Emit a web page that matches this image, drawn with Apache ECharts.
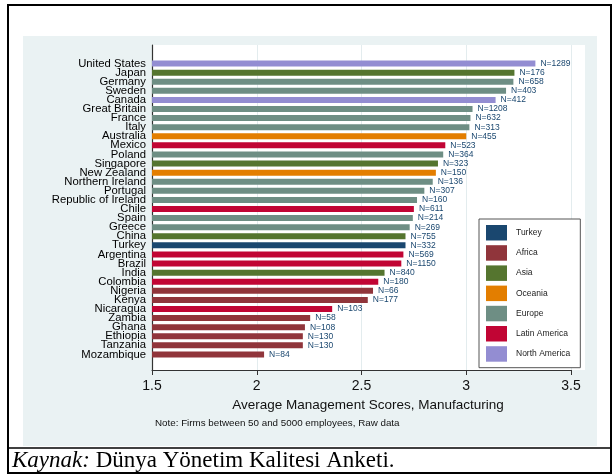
<!DOCTYPE html>
<html><head><meta charset="utf-8">
<script src="https://cdn.jsdelivr.net/npm/echarts@6.0.0/dist/echarts.min.js"></script>
<style>html,body{margin:0;padding:0;background:#fff}#c{width:613px;height:474px}</style>
</head><body><div id="c"></div>
<script>
const countries = ['United States','Japan','Germany','Sweden','Canada','Great Britain','France','Italy','Australia','Mexico','Poland','Singapore','New Zealand','Northern Ireland','Portugal','Republic of Ireland','Chile','Spain','Greece','China','Turkey','Argentina','Brazil','India','Colombia','Nigeria','Kenya','Nicaragua','Zambia','Ghana','Ethiopia','Tanzania','Mozambique'];
const scores = [3.33,3.23,3.225,3.19,3.14,3.03,3.02,3.015,3.00,2.90,2.89,2.865,2.855,2.84,2.80,2.765,2.75,2.745,2.73,2.71,2.71,2.70,2.69,2.61,2.58,2.555,2.53,2.36,2.255,2.23,2.22,2.22,2.035];
const firmCounts = [1289,176,658,403,412,1208,632,313,455,523,364,323,150,136,307,160,611,214,269,755,332,569,1150,840,180,66,177,103,58,108,130,130,84];
const regionOf = ['North America','Asia','Europe','Europe','North America','Europe','Europe','Europe','Oceania','Latin America','Europe','Asia','Oceania','Europe','Europe','Europe','Latin America','Europe','Europe','Asia','Turkey','Latin America','Latin America','Asia','Latin America','Africa','Africa','Latin America','Africa','Africa','Africa','Africa','Africa'];
const regions = ['Turkey','Africa','Asia','Oceania','Europe','Latin America','North America'];
const regionColors = ['#1a476f','#90353b','#55752f','#e37e00','#6e8e84','#c10534','#938dd2'];
const xMin = 1.5, xMax = 3.5, xStep = 0.5;
const xTitle = 'Average Management Scores, Manufacturing';
const noteText = 'Note: Firms between 50 and 5000 employees, Raw data';

const FONT = '"Liberation Sans", Arial, Helvetica, sans-serif';
const SERIF = '"Liberation Serif", "DejaVu Serif", serif';
const chart = echarts.init(document.getElementById('c'), null, {renderer: 'canvas'});

const series = regions.map((r, ri) => ({
  type: 'bar',
  name: r,
  xAxisIndex: 1,
  yAxisIndex: 1,
  barWidth: 6,
  barGap: '-100%',
  itemStyle: {color: regionColors[ri]},
  data: countries.map((c, i) => regionOf[i] === r ? scores[i] : '-'),
  label: {
    show: true, position: 'right', distance: 5,
    formatter: p => 'N=' + firmCounts[p.dataIndex],
    color: '#1a476f', fontSize: 8.5, fontFamily: FONT
  },
  emphasis: {disabled: true}
}));

chart.setOption({
  animation: false,
  textStyle: {fontFamily: FONT},
  graphic: [
    {type: 'rect', z: -100, shape: {x: 23, y: 36, width: 574, height: 410}, style: {fill: '#eaf2f3'}},
    {type: 'rect', z: -90, shape: {x: 152, y: 45, width: 433, height: 325}, style: {fill: '#ffffff'}},
    {type: 'text', left: 155, top: 418, style: {text: noteText, fontSize: 9.8, fill: '#111', fontFamily: FONT}},
    {type: 'line', shape: {x1: 8, y1: 448, x2: 611, y2: 448}, style: {stroke: '#000', lineWidth: 1.5}},
    {type: 'rect', shape: {x: 8, y: 5, width: 603, height: 468}, style: {fill: 'none', stroke: '#000', lineWidth: 2}},
    {type: 'text', left: 12, top: 449, style: {
      text: '{i|Kaynak:}{n| Dünya Yönetim Kalitesi Anketi.}',
      rich: {
        i: {fontFamily: SERIF, fontStyle: 'italic', fontSize: 23, fill: '#000'},
        n: {fontFamily: SERIF, fontSize: 23, fill: '#000'}
      }
    }}
  ],
  legend: {
    data: regions,
    orient: 'vertical',
    left: 479, top: 219,
    padding: [6, 10, 6, 7],
    itemWidth: 21, itemHeight: 15.5, itemGap: 4.7,
    icon: 'rect',
    selectedMode: false,
    backgroundColor: '#fff',
    borderColor: '#555', borderWidth: 1,
    textStyle: {fontSize: 8.5, color: '#222', fontFamily: FONT, padding: [0, 0, 0, 4]}
  },
  grid: [
    {left: 152, right: 42, top: 45, bottom: 104, containLabel: false},
    {left: 152, right: 42, top: 59, bottom: 115, containLabel: false}
  ],
  xAxis: [
    {gridIndex: 0, type: 'value', min: xMin, max: xMax, interval: xStep,
     axisLine: {show: true, lineStyle: {color: '#333', width: 1}},
     axisTick: {show: true, length: 5, lineStyle: {color: '#333'}},
     axisLabel: {fontSize: 14, color: '#111', margin: 9, fontFamily: FONT},
     splitLine: {show: true, lineStyle: {color: '#e3ecee', width: 1}},
     name: xTitle, nameLocation: 'middle', nameGap: 27,
     nameTextStyle: {fontSize: 13.5, color: '#111', fontFamily: FONT, padding: [0, 0, 0, 13]}},
    {gridIndex: 1, type: 'value', min: xMin, max: xMax, show: false}
  ],
  yAxis: [
    {gridIndex: 0, type: 'value', axisLine: {show: true, lineStyle: {color: '#333', width: 1.2}},
     axisLabel: {show: false}, axisTick: {show: false}, splitLine: {show: false}},
    {gridIndex: 1, type: 'category', inverse: true, data: countries,
     axisLine: {show: false}, axisTick: {show: false}, splitLine: {show: false},
     axisLabel: {interval: 0, margin: 6, fontSize: 11.3, color: '#000', fontFamily: FONT}}
  ],
  series: series
});
</script>
</body></html>
